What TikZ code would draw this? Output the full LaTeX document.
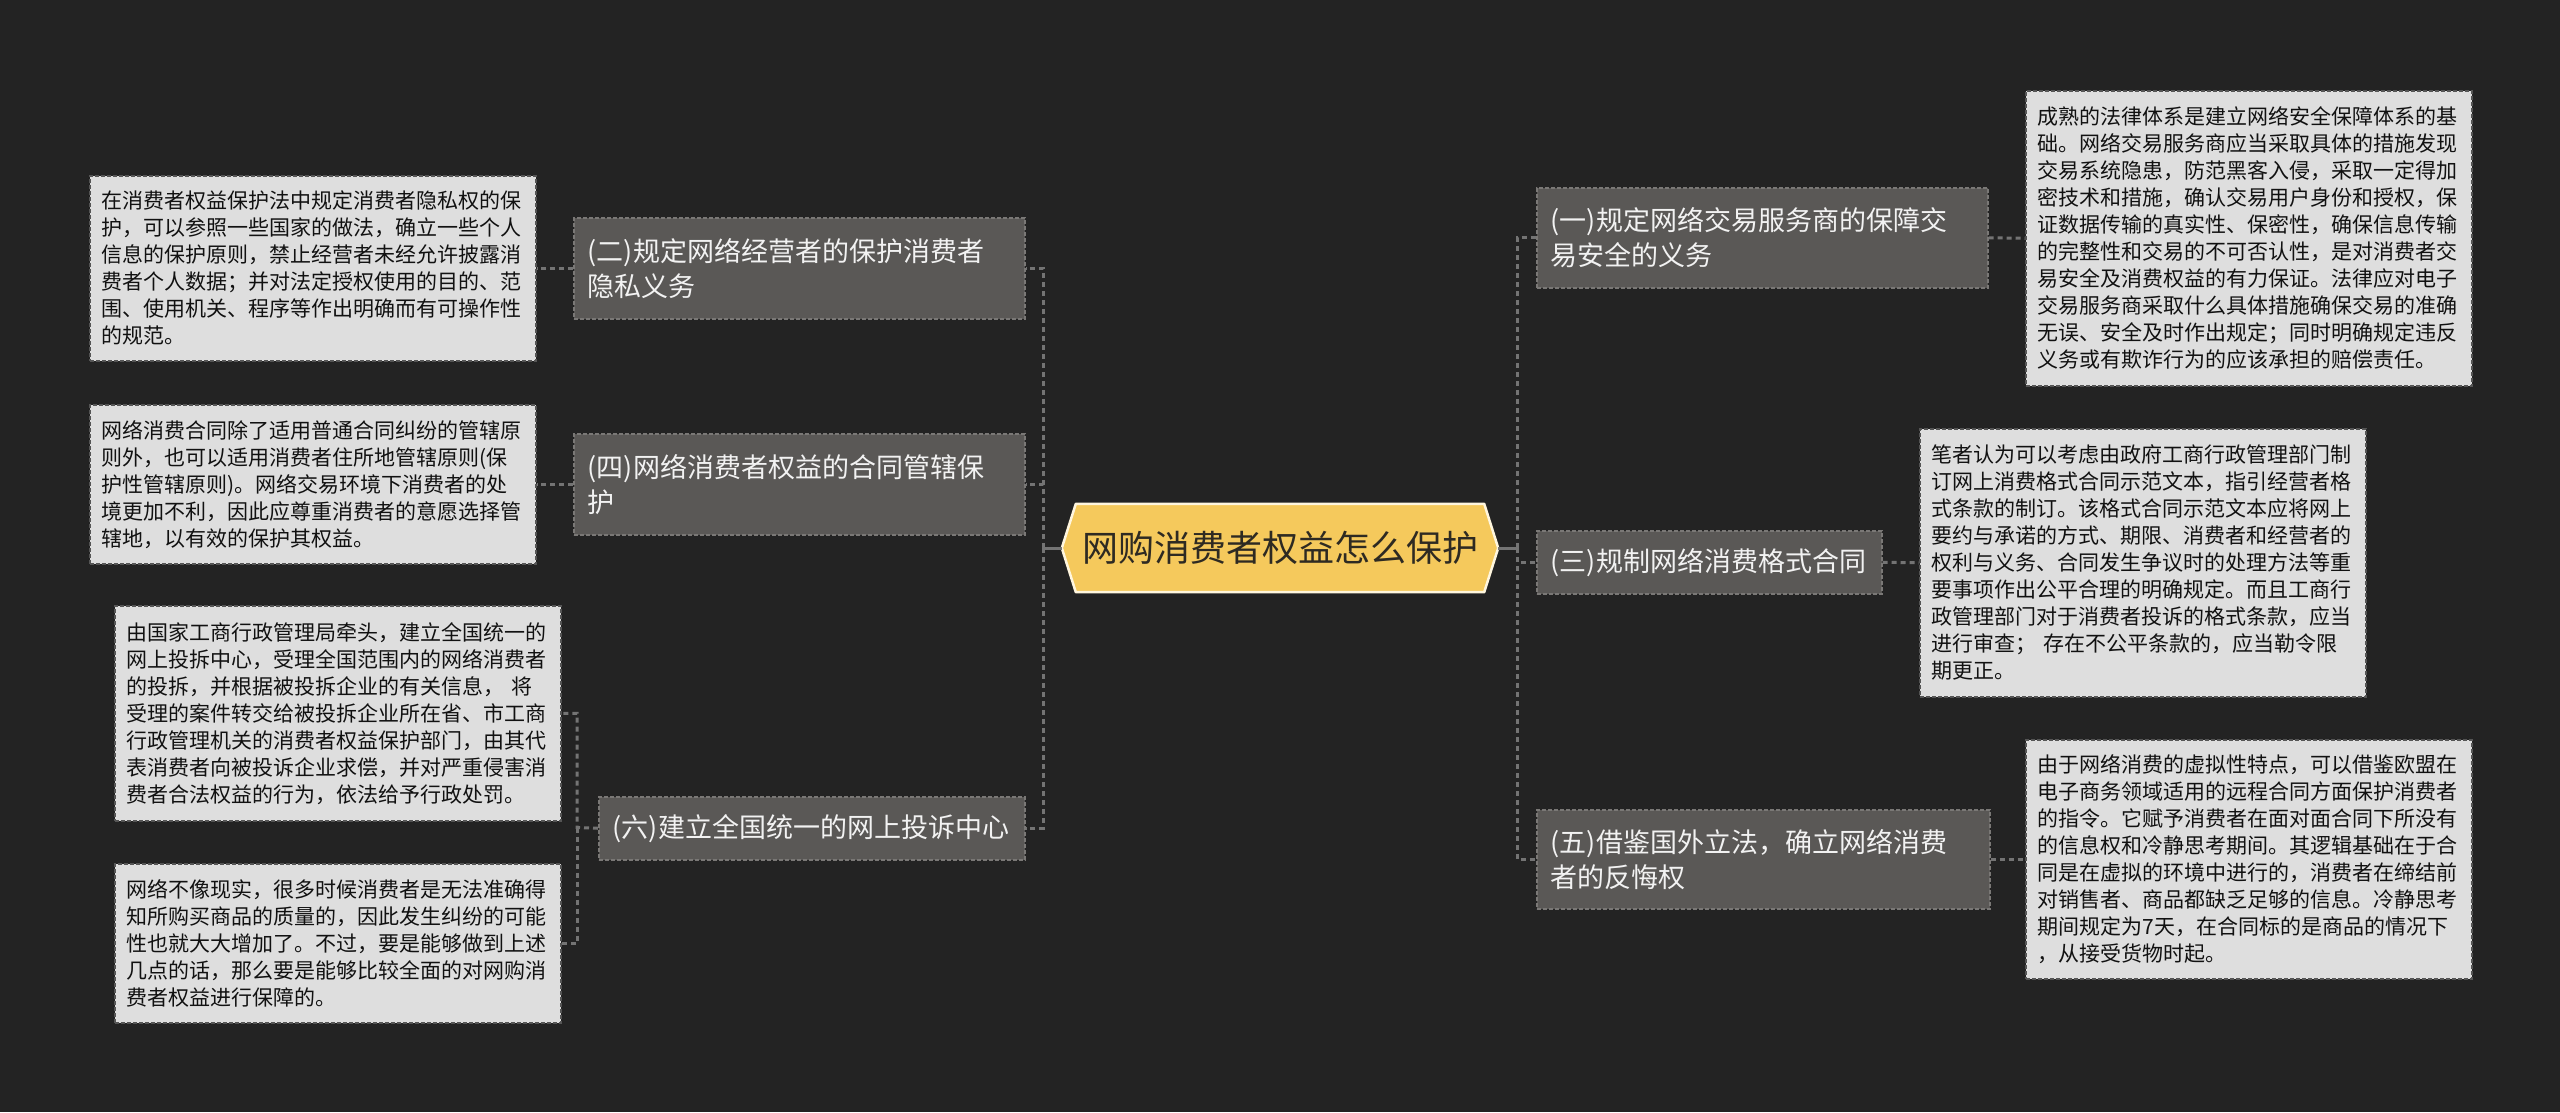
\documentclass[tikz,border=0pt]{standalone}
\usepackage{fontspec}
\newfontfamily\cjk{Noto Sans CJK SC}
\pgfdeclarelayer{bglayer}
\pgfdeclarelayer{shapelayer}
\pgfsetlayers{bglayer,shapelayer,main}
\definecolor{bgc}{HTML}{232323}
\definecolor{lvfill}{HTML}{5A5856}
\definecolor{lvdraw}{HTML}{7A7876}
\definecolor{lffill}{HTML}{DEDEDE}
\definecolor{lfdraw}{HTML}{555555}
\definecolor{cfill}{HTML}{F5C95C}
\definecolor{cdraw}{HTML}{FFF6DE}
\definecolor{ctext}{HTML}{2E2A22}
\definecolor{lvtext}{HTML}{F2F2F2}
\definecolor{lftext}{HTML}{111111}
\definecolor{conncol}{HTML}{747474}
\tikzset{
  leafbox/.style={anchor=north west, draw=lfdraw, fill=lffill, line width=1.5pt,
    dash pattern=on 4pt off 2pt, inner xsep=12pt, inner ysep=0pt, text width=422pt,
    align=left, text=lftext, font=\cjk\fontsize{21}{27}\selectfont},
  lvbox/.style={anchor=north west, draw=lvdraw, fill=lvfill, line width=1.5pt,
    dash pattern=on 4pt off 2pt, inner xsep=14pt, inner ysep=0pt,
    align=left, text=lvtext, font=\cjk\fontsize{27}{35}\selectfont},
  centerbox/.style={inner sep=0pt, minimum width=436pt, minimum height=88pt,
    text=ctext, font=\cjk\fontsize{36}{40}\selectfont},
  conn/.style={draw=conncol, line width=3pt, dash pattern=on 5pt off 4pt},
  connsolid/.style={draw=conncol, line width=3pt}
}
\begin{document}
\begin{tikzpicture}[x=1pt,y=-1pt]
% center
\node[centerbox] (c) at (1280,548) {网购消费者权益怎么保护};
% level one, right
\node[lvbox, text width=423pt, minimum height=100pt] (n1) at (1536,187)
  {(一)规定网络交易服务商的保障交\\易安全的义务};
\node[lvbox, text width=317pt, minimum height=63pt] (n3) at (1536,530)
  {(三)规制网络消费格式合同};
\node[lvbox, text width=425pt, minimum height=99pt] (n5) at (1536,809)
  {(五)借鉴国外立法，确立网络消费\\者的反悔权};
% level one, left
\node[lvbox, text width=423pt, minimum height=101pt] (n2) at (573,217)
  {(二)规定网络经营者的保护消费者\\隐私义务};
\node[lvbox, text width=423pt, minimum height=101pt] (n4) at (573,433)
  {(四)网络消费者权益的合同管辖保\\护};
\node[lvbox, text width=398pt, minimum height=63pt] (n6) at (598,796)
  {(六)建立全国统一的网上投诉中心};
% leaves
\node[leafbox, minimum height=185pt] (l1) at (89,175)
  {在消费者权益保护法中规定消费者隐私权的保\\
   护，可以参照一些国家的做法，确立一些个人\\
   信息的保护原则，禁止经营者未经允许披露消\\
   费者个人数据；并对法定授权使用的目的、范\\
   围、使用机关、程序等作出明确而有可操作性\\
   的规范。};
\node[leafbox, minimum height=159pt] (l2) at (89,404)
  {网络消费合同除了适用普通合同纠纷的管辖原\\
   则外，也可以适用消费者住所地管辖原则(保\\
   护性管辖原则)。网络交易环境下消费者的处\\
   境更加不利，因此应尊重消费者的意愿选择管\\
   辖地，以有效的保护其权益。};
\node[leafbox, minimum height=215pt] (l3) at (114,605)
  {由国家工商行政管理局牵头，建立全国统一的\\
   网上投拆中心，受理全国范围内的网络消费者\\
   的投拆，并根据被投拆企业的有关信息， 将\\
   受理的案件转交给被投拆企业所在省、市工商\\
   行政管理机关的消费者权益保护部门，由其代\\
   表消费者向被投诉企业求偿，并对严重侵害消\\
   费者合法权益的行为，依法给予行政处罚。};
\node[leafbox, minimum height=159pt] (l4) at (114,863)
  {网络不像现实，很多时候消费者是无法准确得\\
   知所购买商品的质量的，因此发生纠纷的可能\\
   性也就大大增加了。不过，要是能够做到上述\\
   几点的话，那么要是能够比较全面的对网购消\\
   费者权益进行保障的。};
\node[leafbox, minimum height=295pt] (r1) at (2025,90)
  {成熟的法律体系是建立网络安全保障体系的基\\
   础。网络交易服务商应当采取具体的措施发现\\
   交易系统隐患，防范黑客入侵，采取一定得加\\
   密技术和措施，确认交易用户身份和授权，保\\
   证数据传输的真实性、保密性，确保信息传输\\
   的完整性和交易的不可否认性，是对消费者交\\
   易安全及消费权益的有力保证。法律应对电子\\
   交易服务商采取什么具体措施确保交易的准确\\
   无误、安全及时作出规定；同时明确规定违反\\
   义务或有欺诈行为的应该承担的赔偿责任。};
\node[leafbox, minimum height=268pt] (r2) at (1919,428)
  {笔者认为可以考虑由政府工商行政管理部门制\\
   订网上消费格式合同示范文本，指引经营者格\\
   式条款的制订。该格式合同示范文本应将网上\\
   要约与承诺的方式、期限、消费者和经营者的\\
   权利与义务、合同发生争议时的处理方法等重\\
   要事项作出公平合理的明确规定。而且工商行\\
   政管理部门对于消费者投诉的格式条款，应当\\
   进行审查； 存在不公平条款的，应当勒令限\\
   期更正。};
\node[leafbox, minimum height=239pt] (r3) at (2025,739)
  {由于网络消费的虚拟性特点，可以借鉴欧盟在\\
   电子商务领域适用的远程合同方面保护消费者\\
   的指令。它赋予消费者在面对面合同下所没有\\
   的信息权和冷静思考期间。其逻辑基础在于合\\
   同是在虚拟的环境中进行的，消费者在缔结前\\
   对销售者、商品都缺乏足够的信息。冷静思考\\
   期间规定为7天，在合同标的是商品的情况下\\
   ，从接受货物时起。};
\coordinate (lt) at (1043,548);
\coordinate (rt) at (1517,548);
\coordinate (j6) at (577,827.5);
\begin{pgfonlayer}{shapelayer}
  \filldraw[fill=cfill, draw=cdraw, line width=2.5pt, line join=round]
    (c.west) -- ([xshift=14pt]c.north west) -- ([xshift=-14pt]c.north east)
    -- (c.east) -- ([xshift=-14pt]c.south east) -- ([xshift=14pt]c.south west) -- cycle;
  \draw[connsolid] (c.west) -- (lt);
  \draw[connsolid] (c.east) -- (rt);
  \draw[conn] (lt) |- (n2.east);
  \draw[conn] (lt) |- (n4.east);
  \draw[conn] (lt) |- (n6.east);
  \draw[conn] (rt) |- (n1.west);
  \draw[conn] (rt) |- (n3.west);
  \draw[conn] (rt) |- (n5.west);
  \draw[conn] (n2.west) -- (l1.east);
  \draw[conn] (n4.west) -- (l2.east);
  \draw[conn] (n6.west) -- (j6) |- (l3.east);
  \draw[conn] (j6) |- (l4.east);
  \draw[conn] (n1.east) -- (r1.west);
  \draw[conn] (n3.east) -- (r2.west);
  \draw[conn] (n5.east) -- (r3.west);
\end{pgfonlayer}
\begin{pgfonlayer}{bglayer}
  \fill[bgc] (0,0) rectangle (2560,1112);
\end{pgfonlayer}
\end{tikzpicture}
\end{document}
